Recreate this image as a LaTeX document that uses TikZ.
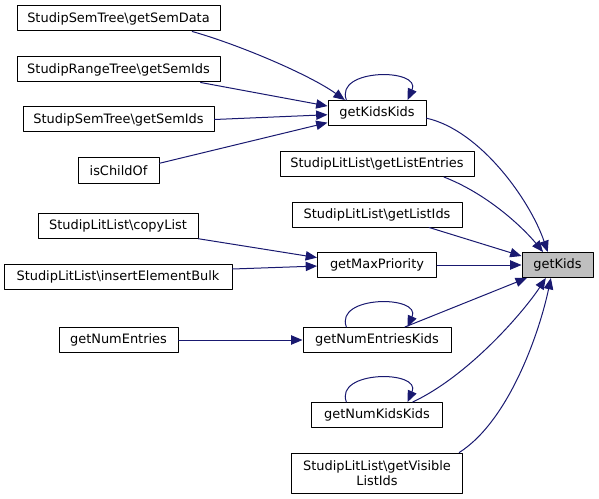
\documentclass[tikz,border=0pt]{standalone}
\usepackage{fontspec}
\usetikzlibrary{arrows.meta}
\newfontfamily\dvsans{DejaVu Sans}
\definecolor{edgeblue}{RGB}{25,25,112}
\definecolor{hilite}{RGB}{191,191,191}

\begin{document}
\begin{tikzpicture}[x=0.75pt, y=-0.75pt, line cap=round, line join=round,
	fn/.style={draw=black, fill=white, line width=0.75pt, minimum width=#1*0.75pt,
		minimum height=18.75pt, inner sep=0pt, align=center,
		font=\dvsans\fontsize{9.7}{11.5}\selectfont},
	call/.style={draw=edgeblue, line width=0.75pt,
		-{Triangle[length=8.5pt, width=7pt]}}]
	
	\useasboundingbox (0,0) rectangle (599,499);
	
	% Define caller nodes (left column)
	\node[fn=203] (semdata) at (118.5, 18.5) {StudipSemTree\textbackslash getSemData};
	\node[fn=203] (rangeids) at (118.5, 69.5) {StudipRangeTree\textbackslash getSemIds};
	\node[fn=191] (semids) at (118.5, 119.5) {StudipSemTree\textbackslash getSemIds};
	\node[fn=81] (childof) at (118.5, 170.5) {isChildOf};
	\node[fn=160] (copylist) at (118, 226) {StudipLitList\textbackslash copyList};
	\node[fn=228] (insertbulk) at (118, 277) {StudipLitList\textbackslash insertElementBulk};
	\node[fn=119] (numentries) at (118.5, 340) {getNumEntries};
	
	% Middle column
	\node[fn=98] (kidskids) at (377, 113) {getKidsKids};
	\node[fn=194] (listentries) at (377, 164) {StudipLitList\textbackslash getListEntries};
	\node[fn=170] (listids) at (377, 214.5) {StudipLitList\textbackslash getListIds};
	\node[fn=119] (maxprio) at (377, 265) {getMaxPriority};
	\node[fn=148] (numentrieskids) at (377, 340) {getNumEntriesKids};
	\node[fn=131] (numkidskids) at (377, 415) {getNumKidsKids};
	\node[fn=171, minimum height=30pt] (visible) at (377, 473) {StudipLitList\textbackslash getVisible\\ListIds};
	
	% Called function
	\node[fn=71, fill=hilite] (getkids) at (557.5, 265) {getKids};
	
	% Calls into getKidsKids
	\draw[call] (semdata.-10) .. controls (240, 45) and (310, 75) .. (kidskids.158);
	\draw[call] (rangeids.-9) -- (kidskids.172);
	\draw[call] (semids.0) -- (kidskids.182);
	\draw[call] (childof.10) -- (kidskids.191);
	
	% Calls into getMaxPriority and getNumEntriesKids
	\draw[call] (copylist.-9) -- (maxprio.173);
	\draw[call] (insertbulk.4) -- (maxprio.181);
	\draw[call] (numentries) -- (numentrieskids);
	
	% Recursive calls
	\foreach \n in {kidskids, numentrieskids, numkidskids} {
		\draw[call] (\n.157) .. controls +(-12,-32) and +(14,-32) .. (\n.23);
	}
	
	% Calls into getKids
	\draw[call] (kidskids.-6) .. controls (480, 130) and (530, 200) .. (getkids.127);
	\draw[call] (listentries.-11) .. controls (490, 195) and (525, 230) .. (getkids.138);
	\draw[call] (listids.-14) -- (getkids.166);
	\draw[call] (maxprio) -- (getkids);
	\draw[call] (numentrieskids.25) -- (getkids.203);
	\draw[call] (numkidskids.20) .. controls (470, 375) and (525, 310) .. (getkids.228);
	\draw[call] (visible.14) .. controls (510, 420) and (540, 330) .. (getkids.243);
	
\end{tikzpicture}
\end{document}
